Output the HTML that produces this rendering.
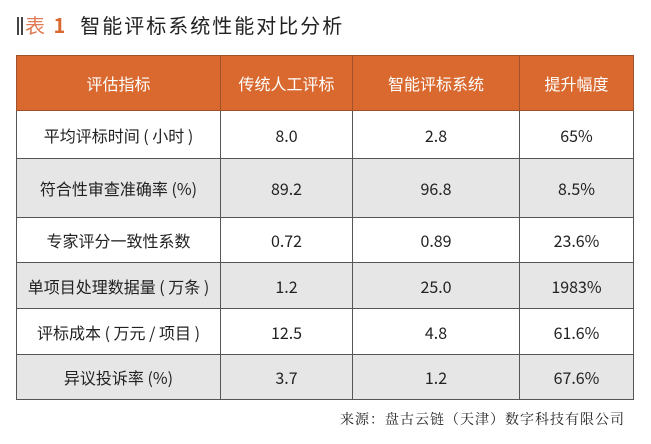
<!DOCTYPE html><html><head><meta charset="utf-8"><style>
body{margin:0;width:651px;height:444px;background:#fff;font-family:"Noto Sans CJK SC",sans-serif;position:relative;overflow:hidden}
.t{position:absolute;left:17px;top:10px;font-size:20px;color:#222;letter-spacing:2px;white-space:nowrap;line-height:30px}
.bar{display:inline-block;width:2px;height:18px;background:#444;margin-right:2px;vertical-align:-2px;letter-spacing:0}
table{position:absolute;left:16px;top:55px;border-collapse:collapse;width:618px;font-size:16px;color:#222;line-height:18px}
td{border:1.5px solid #555;text-align:center;padding:0}
tr.h td{background:#d9692f;color:#fff;height:54px;border-color:#a0532a}
tr.g td{background:#e6e6e6}
.src{position:absolute;right:26px;top:409px;font-family:"Noto Serif CJK SC",serif;font-size:14px;color:#222;letter-spacing:1px}
</style></head><body>
<div class="t"><span class="bar"></span><span class="bar"></span><span style="color:#e07a55">表</span> <b style="color:#d9692f;font-size:20px">1</b>&nbsp; 智能评标系统性能对比分析</div>
<table>
<tr class="h"><td style="width:203px">评估指标</td><td style="width:131px">传统人工评标</td><td style="width:166px">智能评标系统</td><td>提升幅度</td></tr>
<tr style="height:48px"><td>平均评标时间 ( 小时 )</td><td>8.0</td><td>2.8</td><td>65%</td></tr>
<tr class="g" style="height:59px"><td>符合性审查准确率 (%)</td><td>89.2</td><td>96.8</td><td>8.5%</td></tr>
<tr style="height:45px"><td>专家评分一致性系数</td><td>0.72</td><td>0.89</td><td>23.6%</td></tr>
<tr class="g" style="height:46px"><td>单项目处理数据量 ( 万条 )</td><td>1.2</td><td>25.0</td><td>1983%</td></tr>
<tr style="height:46px"><td>评标成本 ( 万元 / 项目 )</td><td>12.5</td><td>4.8</td><td>61.6%</td></tr>
<tr class="g" style="height:45px"><td>异议投诉率 (%)</td><td>3.7</td><td>1.2</td><td>67.6%</td></tr>
</table>
<div class="src">来源：盘古云链（天津）数字科技有限公司</div>
</body></html>
